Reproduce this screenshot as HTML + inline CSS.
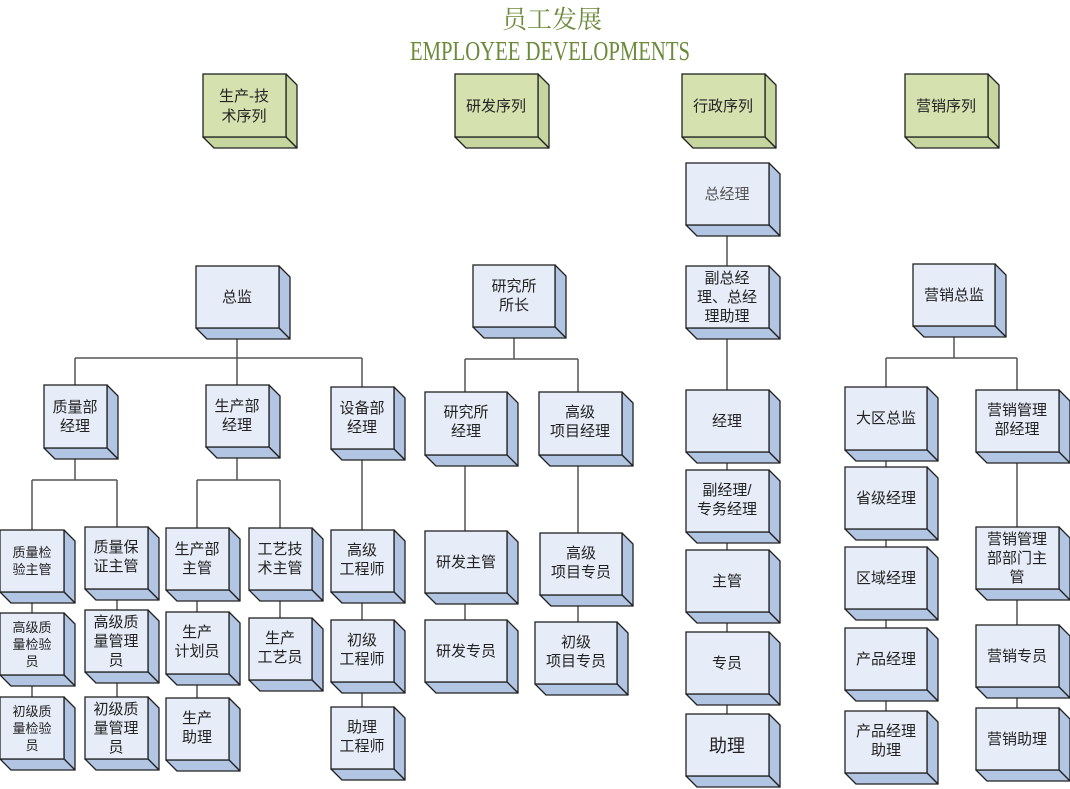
<!DOCTYPE html>
<html><head><meta charset="utf-8"><style>
html,body{margin:0;padding:0;background:#fff;}
svg{display:block;}
text{font-family:"Liberation Sans","Noto Sans CJK SC",sans-serif;fill:#222;text-anchor:middle;}
.f{fill:#e7edf8;stroke:#222;stroke-width:1.3;}
.s{fill:#b2c5e3;stroke:#222;stroke-width:1.3;stroke-linejoin:round;}
.gf{fill:#d5e2b0;stroke:#222;stroke-width:1.3;}
.gs{fill:#c6d69e;stroke:#222;stroke-width:1.3;stroke-linejoin:round;}
.l{stroke:#555;stroke-width:1.5;fill:none;}
.t{font-size:15px;}
.sm{font-size:13px;}
</style></head><body>
<svg width="1070" height="789" viewBox="0 0 1070 789" xmlns="http://www.w3.org/2000/svg">
<text x="552" y="28" style="font-family:'Liberation Serif','Noto Serif CJK SC',serif;font-size:25px;fill:#6b8a3a">员工发展</text>
<text x="550" y="60" textLength="280" lengthAdjust="spacingAndGlyphs" style="font-family:'Liberation Serif',serif;font-size:27px;fill:#6b8a3a">EMPLOYEE DEVELOPMENTS</text>

<!-- connectors -->
<g class="l">
<path d="M237 328V358M75 358H362M75 358V385M237 358V385M362 358V387"/>
<path d="M75 448V480M32 480H117M32 480V530M117 480V527M32 592V697M117 589V697"/>
<path d="M237 447V480M197 480H280M197 480V698M280 480V618"/>
<path d="M362 449V707"/>
<path d="M514 327V359M465 359H578M465 359V392M578 359V392M465 455V620M578 455V622"/>
<path d="M727 225V714"/>
<path d="M954 326V358M886 358H1017M886 358V387M1017 358V390M886 450V711M1017 452V708"/>
</g>

<!-- headers -->
<g transform="translate(203,74)"><path class="gs" d="M83 0l11 11v63l-11-11z"/><path class="gs" d="M0 63h83l11 11h-83z"/><rect class="gf" width="83" height="63"/><text class="t" x="41" y="27">生产-技</text><text class="t" x="41" y="47">术序列</text></g>
<g transform="translate(455,74)"><path class="gs" d="M83 0l11 11v63l-11-11z"/><path class="gs" d="M0 63h83l11 11h-83z"/><rect class="gf" width="83" height="63"/><text class="t" x="41" y="37">研发序列</text></g>
<g transform="translate(682,74)"><path class="gs" d="M83 0l11 11v63l-11-11z"/><path class="gs" d="M0 63h83l11 11h-83z"/><rect class="gf" width="83" height="63"/><text class="t" x="41" y="37">行政序列</text></g>
<g transform="translate(905,74)"><path class="gs" d="M83 0l11 11v63l-11-11z"/><path class="gs" d="M0 63h83l11 11h-83z"/><rect class="gf" width="83" height="63"/><text class="t" x="41" y="37">营销序列</text></g>

<!-- column 1 -->
<g transform="translate(196,266)"><path class="s" d="M83 0l11 11v62l-11-11z"/><path class="s" d="M0 62h83l11 11h-83z"/><rect class="f" width="83" height="62"/><text class="t" x="41" y="36">总监</text></g>
<g transform="translate(44,385)"><path class="s" d="M63 0l11 11v63l-11-11z"/><path class="s" d="M0 63h63l11 11h-63z"/><rect class="f" width="63" height="63"/><text class="t" x="31" y="27">质量部</text><text class="t" x="31" y="46">经理</text></g>
<g transform="translate(206,385)"><path class="s" d="M63 0l11 11v62l-11-11z"/><path class="s" d="M0 62h63l11 11h-63z"/><rect class="f" width="63" height="62"/><text class="t" x="31" y="26">生产部</text><text class="t" x="31" y="45">经理</text></g>
<g transform="translate(331,387)"><path class="s" d="M63 0l11 11v62l-11-11z"/><path class="s" d="M0 62h63l11 11h-63z"/><rect class="f" width="63" height="62"/><text class="t" x="31" y="26">设备部</text><text class="t" x="31" y="45">经理</text></g>

<g transform="translate(0,530)"><path class="s" d="M64 0l11 11v62l-11-11z"/><path class="s" d="M0 62h64l11 11h-64z"/><rect class="f" width="64" height="62"/><text class="sm" x="32" y="27">质量检</text><text class="sm" x="32" y="44">验主管</text></g>
<g transform="translate(85,527)"><path class="s" d="M63 0l11 11v62l-11-11z"/><path class="s" d="M0 62h63l11 11h-63z"/><rect class="f" width="63" height="62"/><text class="t" x="31" y="25">质量保</text><text class="t" x="31" y="44">证主管</text></g>
<g transform="translate(0,613)"><path class="s" d="M64 0l11 11v62l-11-11z"/><path class="s" d="M0 62h64l11 11h-64z"/><rect class="f" width="64" height="62"/><text class="sm" x="32" y="19">高级质</text><text class="sm" x="32" y="36">量检验</text><text class="sm" x="32" y="53">员</text></g>
<g transform="translate(85,610)"><path class="s" d="M63 0l11 11v62l-11-11z"/><path class="s" d="M0 62h63l11 11h-63z"/><rect class="f" width="63" height="62"/><text class="t" x="31" y="17">高级质</text><text class="t" x="31" y="36">量管理</text><text class="t" x="31" y="55">员</text></g>
<g transform="translate(0,697)"><path class="s" d="M64 0l11 11v62l-11-11z"/><path class="s" d="M0 62h64l11 11h-64z"/><rect class="f" width="64" height="62"/><text class="sm" x="32" y="19">初级质</text><text class="sm" x="32" y="36">量检验</text><text class="sm" x="32" y="53">员</text></g>
<g transform="translate(85,697)"><path class="s" d="M63 0l11 11v62l-11-11z"/><path class="s" d="M0 62h63l11 11h-63z"/><rect class="f" width="63" height="62"/><text class="t" x="31" y="17">初级质</text><text class="t" x="31" y="36">量管理</text><text class="t" x="31" y="55">员</text></g>

<g transform="translate(166,528)"><path class="s" d="M63 0l11 11v62l-11-11z"/><path class="s" d="M0 62h63l11 11h-63z"/><rect class="f" width="63" height="62"/><text class="t" x="31" y="26">生产部</text><text class="t" x="31" y="45">主管</text></g>
<g transform="translate(249,528)"><path class="s" d="M63 0l11 11v62l-11-11z"/><path class="s" d="M0 62h63l11 11h-63z"/><rect class="f" width="63" height="62"/><text class="t" x="31" y="26">工艺技</text><text class="t" x="31" y="45">术主管</text></g>
<g transform="translate(166,612)"><path class="s" d="M63 0l11 11v62l-11-11z"/><path class="s" d="M0 62h63l11 11h-63z"/><rect class="f" width="63" height="62"/><text class="t" x="31" y="25">生产</text><text class="t" x="31" y="44">计划员</text></g>
<g transform="translate(249,618)"><path class="s" d="M63 0l11 11v62l-11-11z"/><path class="s" d="M0 62h63l11 11h-63z"/><rect class="f" width="63" height="62"/><text class="t" x="31" y="25">生产</text><text class="t" x="31" y="44">工艺员</text></g>
<g transform="translate(166,698)"><path class="s" d="M63 0l11 11v62l-11-11z"/><path class="s" d="M0 62h63l11 11h-63z"/><rect class="f" width="63" height="62"/><text class="t" x="31" y="25">生产</text><text class="t" x="31" y="44">助理</text></g>
<g transform="translate(331,530)"><path class="s" d="M63 0l11 11v62l-11-11z"/><path class="s" d="M0 62h63l11 11h-63z"/><rect class="f" width="63" height="62"/><text class="t" x="31" y="25">高级</text><text class="t" x="31" y="44">工程师</text></g>
<g transform="translate(331,620)"><path class="s" d="M63 0l11 11v62l-11-11z"/><path class="s" d="M0 62h63l11 11h-63z"/><rect class="f" width="63" height="62"/><text class="t" x="31" y="25">初级</text><text class="t" x="31" y="44">工程师</text></g>
<g transform="translate(331,707)"><path class="s" d="M63 0l11 11v62l-11-11z"/><path class="s" d="M0 62h63l11 11h-63z"/><rect class="f" width="63" height="62"/><text class="t" x="31" y="25">助理</text><text class="t" x="31" y="44">工程师</text></g>

<!-- column 2 -->
<g transform="translate(473,265)"><path class="s" d="M82 0l11 11v62l-11-11z"/><path class="s" d="M0 62h82l11 11h-82z"/><rect class="f" width="82" height="62"/><text class="t" x="41" y="26">研究所</text><text class="t" x="41" y="45">所长</text></g>
<g transform="translate(425,392)"><path class="s" d="M82 0l11 11v63l-11-11z"/><path class="s" d="M0 63h82l11 11h-82z"/><rect class="f" width="82" height="63"/><text class="t" x="41" y="25">研究所</text><text class="t" x="41" y="44">经理</text></g>
<g transform="translate(539,392)"><path class="s" d="M83 0l11 11v63l-11-11z"/><path class="s" d="M0 63h83l11 11h-83z"/><rect class="f" width="83" height="63"/><text class="t" x="41" y="25">高级</text><text class="t" x="41" y="44">项目经理</text></g>
<g transform="translate(425,531)"><path class="s" d="M82 0l11 11v62l-11-11z"/><path class="s" d="M0 62h82l11 11h-82z"/><rect class="f" width="82" height="62"/><text class="t" x="41" y="36">研发主管</text></g>
<g transform="translate(540,533)"><path class="s" d="M82 0l11 11v62l-11-11z"/><path class="s" d="M0 62h82l11 11h-82z"/><rect class="f" width="82" height="62"/><text class="t" x="41" y="25">高级</text><text class="t" x="41" y="44">项目专员</text></g>
<g transform="translate(425,620)"><path class="s" d="M82 0l11 11v62l-11-11z"/><path class="s" d="M0 62h82l11 11h-82z"/><rect class="f" width="82" height="62"/><text class="t" x="41" y="36">研发专员</text></g>
<g transform="translate(535,622)"><path class="s" d="M82 0l11 11v62l-11-11z"/><path class="s" d="M0 62h82l11 11h-82z"/><rect class="f" width="82" height="62"/><text class="t" x="41" y="25">初级</text><text class="t" x="41" y="44">项目专员</text></g>

<!-- column 3 -->
<g transform="translate(686,163)"><path class="s" d="M83 0l11 11v62l-11-11z"/><path class="s" d="M0 62h83l11 11h-83z"/><rect class="f" width="83" height="62"/><text class="t" x="41" y="36" style="fill:#555">总经理</text></g>
<g transform="translate(686,266)"><path class="s" d="M83 0l11 11v62l-11-11z"/><path class="s" d="M0 62h83l11 11h-83z"/><rect class="f" width="83" height="62"/><text class="t" x="41" y="17">副总经</text><text class="t" x="41" y="36">理、总经</text><text class="t" x="41" y="55">理助理</text></g>
<g transform="translate(686,390)"><path class="s" d="M83 0l11 11v62l-11-11z"/><path class="s" d="M0 62h83l11 11h-83z"/><rect class="f" width="83" height="62"/><text class="t" x="41" y="36">经理</text></g>
<g transform="translate(686,470)"><path class="s" d="M83 0l11 11v62l-11-11z"/><path class="s" d="M0 62h83l11 11h-83z"/><rect class="f" width="83" height="62"/><text class="t" x="41" y="25">副经理/</text><text class="t" x="41" y="44">专务经理</text></g>
<g transform="translate(686,550)"><path class="s" d="M83 0l11 11v62l-11-11z"/><path class="s" d="M0 62h83l11 11h-83z"/><rect class="f" width="83" height="62"/><text class="t" x="41" y="36">主管</text></g>
<g transform="translate(686,632)"><path class="s" d="M83 0l11 11v62l-11-11z"/><path class="s" d="M0 62h83l11 11h-83z"/><rect class="f" width="83" height="62"/><text class="t" x="41" y="36">专员</text></g>
<g transform="translate(686,714)"><path class="s" d="M83 0l11 11v62l-11-11z"/><path class="s" d="M0 62h83l11 11h-83z"/><rect class="f" width="83" height="62"/><text x="41" y="38" style="font-size:18px">助理</text></g>

<!-- column 4 -->
<g transform="translate(913,264)"><path class="s" d="M82 0l11 11v62l-11-11z"/><path class="s" d="M0 62h82l11 11h-82z"/><rect class="f" width="82" height="62"/><text class="t" x="41" y="36">营销总监</text></g>
<g transform="translate(845,387)"><path class="s" d="M82 0l11 11v63l-11-11z"/><path class="s" d="M0 63h82l11 11h-82z"/><rect class="f" width="82" height="63"/><text class="t" x="41" y="36">大区总监</text></g>
<g transform="translate(976,390)"><path class="s" d="M83 0l11 11v62l-11-11z"/><path class="s" d="M0 62h83l11 11h-83z"/><rect class="f" width="83" height="62"/><text class="t" x="41" y="25">营销管理</text><text class="t" x="41" y="44">部经理</text></g>
<g transform="translate(845,467)"><path class="s" d="M82 0l11 11v62l-11-11z"/><path class="s" d="M0 62h82l11 11h-82z"/><rect class="f" width="82" height="62"/><text class="t" x="41" y="36">省级经理</text></g>
<g transform="translate(845,547)"><path class="s" d="M82 0l11 11v62l-11-11z"/><path class="s" d="M0 62h82l11 11h-82z"/><rect class="f" width="82" height="62"/><text class="t" x="41" y="36">区域经理</text></g>
<g transform="translate(845,628)"><path class="s" d="M82 0l11 11v62l-11-11z"/><path class="s" d="M0 62h82l11 11h-82z"/><rect class="f" width="82" height="62"/><text class="t" x="41" y="36">产品经理</text></g>
<g transform="translate(845,711)"><path class="s" d="M82 0l11 11v62l-11-11z"/><path class="s" d="M0 62h82l11 11h-82z"/><rect class="f" width="82" height="62"/><text class="t" x="41" y="25">产品经理</text><text class="t" x="41" y="44">助理</text></g>
<g transform="translate(976,527)"><path class="s" d="M83 0l11 11v62l-11-11z"/><path class="s" d="M0 62h83l11 11h-83z"/><rect class="f" width="83" height="62"/><text class="t" x="41" y="17">营销管理</text><text class="t" x="41" y="36">部部门主</text><text class="t" x="41" y="55">管</text></g>
<g transform="translate(976,625)"><path class="s" d="M83 0l11 11v62l-11-11z"/><path class="s" d="M0 62h83l11 11h-83z"/><rect class="f" width="83" height="62"/><text class="t" x="41" y="36">营销专员</text></g>
<g transform="translate(976,708)"><path class="s" d="M83 0l11 11v62l-11-11z"/><path class="s" d="M0 62h83l11 11h-83z"/><rect class="f" width="83" height="62"/><text class="t" x="41" y="36">营销助理</text></g>
</svg>
</body></html>
